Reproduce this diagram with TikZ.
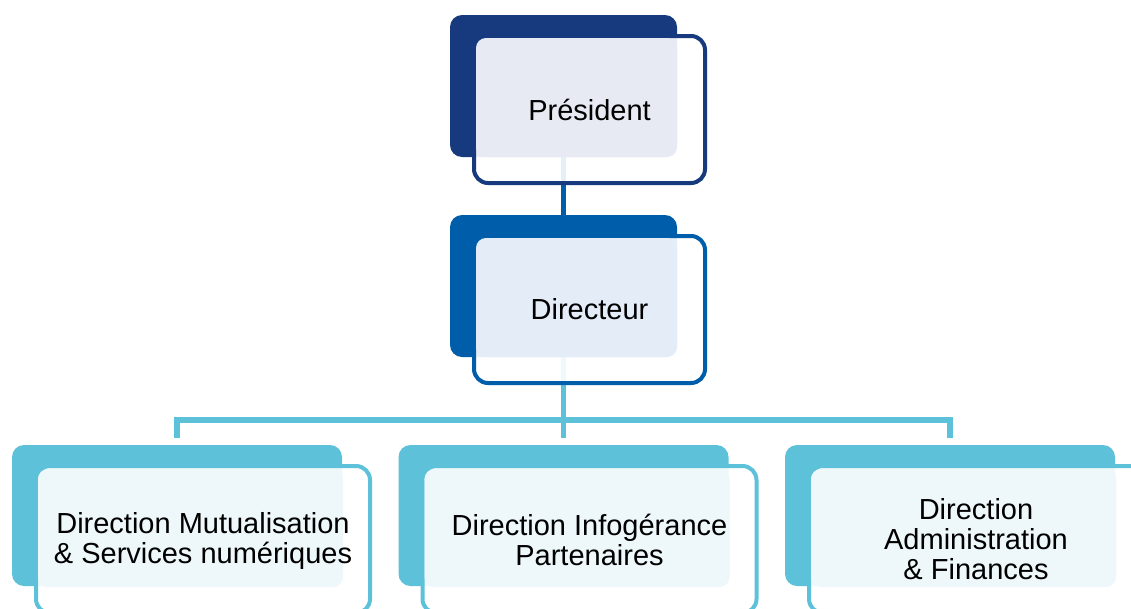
\documentclass[tikz,border=0pt]{standalone}
\usepackage{fontspec}
\setmainfont{Liberation Sans}
\usetikzlibrary{positioning}

\definecolor{presblue}{HTML}{173A7F}
\definecolor{dirblue}{HTML}{005DAA}
\definecolor{svcblue}{HTML}{5DC1D9}
\definecolor{preslight}{HTML}{E7EAF2}
\definecolor{dirlight}{HTML}{E4EDF7}
\definecolor{svclight}{HTML}{EEF7FA}

\begin{document}
\begin{tikzpicture}[x=1pt,y=-1pt,
  back box/.style={rectangle,rounded corners=12pt,inner sep=0pt},
  front box/.style={rectangle,rounded corners=14pt,inner sep=0pt,
    line width=4pt,fill=white,fill opacity=0.9},
  light box/.style={rectangle,rounded corners=10pt,inner sep=0pt},
  top size/.style={minimum width=227pt,minimum height=142pt},
  top front/.style={minimum width=231pt,minimum height=147pt},
  top light/.style={minimum width=201pt,minimum height=119pt},
  svc size/.style={minimum width=330pt,minimum height=141pt},
  svc front/.style={minimum width=334pt,minimum height=147pt},
  svc light/.style={minimum width=305pt,minimum height=118pt},
  title/.style={align=center,text=black,inner sep=0pt,
    font=\fontsize{29}{30}\selectfont},
  link/.style={line width=5.5pt}]

  \clip (0,0) rectangle (1131,608);

  % back boxes
  \node[back box,top size,fill=presblue] (PB)  at (563.5,86)    {};
  \node[back box,top size,fill=dirblue]  (DB)  at (563.5,286)   {};
  \node[back box,svc size,fill=svcblue]  (C1B) at (177,515.5)   {};
  \node[back box,svc size,fill=svcblue]  (C2B) at (563.5,515.5) {};
  \node[back box,svc size,fill=svcblue]  (C3B) at (950,515.5)   {};

  % connectors
  \draw[link,dirblue] (PB.south) -- (DB.north);
  \draw[link,svcblue] (DB.south) -- ([yshift=7pt]C2B.north);
  \draw[link,svcblue] ([yshift=7pt]C1B.north) -- ++(0,-18)
    -| ([yshift=7pt]C3B.north);

  % front boxes
  \node[front box,top front,draw=presblue] (PF)  at (589.5,109.5) {};
  \node[front box,top front,draw=dirblue]  (DF)  at (589.5,309.5) {};
  \node[front box,svc front,draw=svcblue]  (C1F) at (203,539.5)   {};
  \node[front box,svc front,draw=svcblue]  (C2F) at (589.5,539.5) {};
  \node[front box,svc front,draw=svcblue]  (C3F) at (976,539.5)   {};

  % light panels
  \node[light box,top light,fill=preslight] (PL)  at (576.5,97.5) {};
  \node[light box,top light,fill=dirlight]  (DL)  at (576.5,297.5) {};
  \node[light box,svc light,fill=svclight]  (C1L) at (190.5,528)  {};
  \node[light box,svc light,fill=svclight]  (C2L) at (577,528)    {};
  \node[light box,svc light,fill=svclight]  (C3L) at (963.5,528)  {};

  % labels
  \node[title] (PT)  at (PF.center)  {Président};
  \node[title] (DT)  at (DF.center)  {Directeur};
  \node[title] (C1T) at ([yshift=-1.5pt]C1F.center) {Direction Mutualisation\\\& Services numériques};
  \node[title] (C2T) at (C2F.center) {Direction Infogérance\\Partenaires};
  \node[title] (C3T) at (C3F.center) {Direction\\Administration\\\& Finances};

\end{tikzpicture}
\end{document}
